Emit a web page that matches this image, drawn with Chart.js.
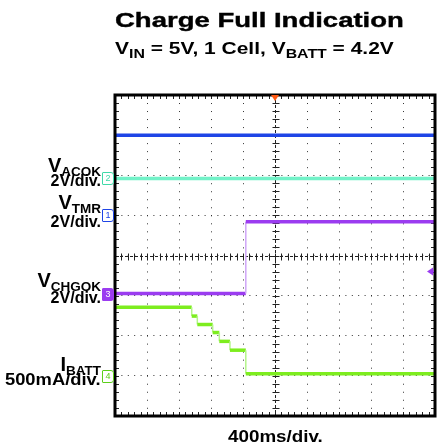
<!DOCTYPE html>
<html>
<head>
<meta charset="utf-8">
<script src="https://cdn.jsdelivr.net/npm/chart.js@4.4.0/dist/chart.umd.min.js"></script>
<style>
  html, body { margin: 0; padding: 0; background: #fff; }
  #wrap { position: relative; width: 438px; height: 445px; overflow: hidden;
          font-family: "Liberation Sans", Arial, sans-serif; font-weight: bold; color: #000; }
  #wrap canvas { position: absolute; left: 0; top: 0; }
  .txt { position: absolute; white-space: nowrap; line-height: 1; }
  .lbl { position: absolute; right: 337px; white-space: nowrap; line-height: 1; text-align: right; transform-origin: right top; }
  .big { font-size: 20px; }
  .sub { font-size: 13.5px; position: relative; top: 4px; }
  .div { font-size: 16px; }
  .mark { position: absolute; left: 102px; width: 10px; height: 11px; font-size: 9px; line-height: 11px;
          text-align: center; font-weight: normal; border: 1px solid; background: #fff; border-radius: 1px 3px 3px 1px; }
</style>
</head>
<body>
<div id="wrap">
  <canvas id="scope" width="438" height="445"></canvas>

  <div class="txt" id="title" style="left:115px; top:9px; font-size:21px; -webkit-text-stroke:0.4px #000; transform:scaleX(1.31); transform-origin:left top;">Charge Full Indication</div>
  <div class="txt" id="subtitle" style="left:115px; top:40px; font-size:16.5px; transform:scaleX(1.27); transform-origin:left top;">V<span style="font-size:12.5px; position:relative; top:4px;">IN</span> = 5V, 1 Cell, V<span style="font-size:12.5px; position:relative; top:4px;">BATT</span> = 4.2V</div>

  <div class="lbl" style="top:155px;"><span class="big">V</span><span class="sub">ACOK</span></div>
  <div class="lbl div" style="top:173px;">2V/div.</div>
  <div class="lbl" style="top:192px;"><span class="big">V</span><span class="sub">TMR</span></div>
  <div class="lbl div" style="top:214px;">2V/div.</div>
  <div class="lbl" style="top:270px;"><span class="big">V</span><span class="sub">CHGOK</span></div>
  <div class="lbl div" style="top:290px;">2V/div.</div>
  <div class="lbl" style="top:354px;"><span class="big">I</span><span class="sub">BATT</span></div>
  <div class="lbl div" style="top:371px; font-size:17px; transform:scaleX(1.08);">500mA/div.</div>

  <div class="txt" id="xlabel" style="left:228px; top:428px; font-size:16.5px; transform:scaleX(1.14); transform-origin:left top;">400ms/div.</div>

  <div class="mark" id="m1" style="color:#1f45e6; border-color:#1f45e6;">1</div>
  <div class="mark" id="m2" style="color:#3fd9a8; border-color:#3fd9a8;">2</div>
  <div class="mark" id="m3" style="color:#fff; border-color:#9b3cf0; background:#9b3cf0;">3</div>
  <div class="mark" id="m4" style="color:#5ccf1a; border-color:#5ccf1a;">4</div>
</div>

<script>
// capture: 10 divisions x 400ms
const timeSpan = [0, 4000];

// V_TMR (ch1) and V_ACOK (ch2) stay flat for the whole capture
const tmrLevels = [4.0];
const acokLevels = [0.0];

// V_CHGOK (ch3) goes high when charging is done
const chgokEdges = [1635];          // ms
const chgokLevels = [0.0, 3.58];    // V

// I_BATT (ch4) steps down, then drops to ~0 at charge full
const ibattEdges = [959, 1029, 1221, 1304, 1437, 1635];     // ms
const ibattLevels = [855, 745, 640, 540, 430, 320, 25];     // mA

// trigger level on ch3 (V)
const trigLevel = 1.1;

// scope channel settings: ground position (divisions from center), units per division
const channels = {
    ch1: { offset: 1.0, perDiv: 2 },
    ch2: { offset: 1.92, perDiv: 2 },
    ch3: { offset: -0.95, perDiv: 2 },
    ch4: { offset: -3.0, perDiv: 500 }
};

// turn edge times + levels into a list of points
function steps(edges, levels) {
    const pts = [];
    let start = timeSpan[0];
    levels.forEach((lv, i) => {
        const end = i < edges.length ? edges[i] : timeSpan[1];
        pts.push({ x: start, y: lv }, { x: end, y: lv });
        start = end;
    });
    return pts;
}

function chAxis(key) {
    const c = channels[key];
    return { type: 'linear', display: false, min: (-4 - c.offset) * c.perDiv, max: (4 - c.offset) * c.perDiv };
}

// edges drawn thin and lighter, like the scope does
function trace(label, key, pts, color, edgeColor) {
    return {
        label: label,
        yAxisID: key,
        data: pts,
        borderColor: color,
        borderWidth: 3.5,
        pointRadius: 0,
        tension: 0,
        segment: {
            borderColor: ctx => ctx.p0.parsed.x === ctx.p1.parsed.x ? edgeColor : undefined,
            borderWidth: ctx => ctx.p0.parsed.x === ctx.p1.parsed.x ? 1.5 : undefined
        }
    };
}

const scopeDecor = {
    id: 'scopeDecor',
    beforeDatasetsDraw(chart) {
        const { ctx, chartArea: a } = chart;
        const x = chart.scales.x, g = chart.scales.grid;
        const cx = Math.round(x.getPixelForValue((timeSpan[0] + timeSpan[1]) / 2)) + 0.5;
        const cy = Math.round(g.getPixelForValue(0)) + 0.5;
        ctx.save();
        ctx.strokeStyle = '#222';
        ctx.lineWidth = 1;
        // center cross, dashed
        ctx.setLineDash([3, 2]);
        ctx.beginPath();
        ctx.moveTo(a.left, cy); ctx.lineTo(a.right, cy);
        ctx.moveTo(cx, a.top); ctx.lineTo(cx, a.bottom);
        ctx.stroke();
        ctx.setLineDash([]);
        // minor ticks every 1/5 division
        ctx.beginPath();
        const stepX = (timeSpan[1] - timeSpan[0]) / 50;
        for (let i = 0; i <= 50; i++) {
            const px = Math.round(x.getPixelForValue(timeSpan[0] + i * stepX)) + 0.5;
            ctx.moveTo(px, cy - 3); ctx.lineTo(px, cy + 4);
            ctx.moveTo(px, a.top); ctx.lineTo(px, a.top + 4);
            ctx.moveTo(px, a.bottom); ctx.lineTo(px, a.bottom - 4);
        }
        for (let i = -20; i <= 20; i++) {
            const py = Math.round(g.getPixelForValue(i * 0.2)) + 0.5;
            ctx.moveTo(cx - 3, py); ctx.lineTo(cx + 4, py);
            ctx.moveTo(a.left, py); ctx.lineTo(a.left + 4, py);
            ctx.moveTo(a.right, py); ctx.lineTo(a.right - 4, py);
        }
        ctx.stroke();
        ctx.restore();
    },
    afterDraw(chart) {
        const { ctx, chartArea: a } = chart;
        const x = chart.scales.x;
        ctx.save();
        // frame
        ctx.strokeStyle = '#000';
        ctx.lineWidth = 3;
        ctx.strokeRect(a.left, a.top, a.right - a.left, a.bottom - a.top);
        // trigger position
        const tx = x.getPixelForValue((timeSpan[0] + timeSpan[1]) / 2);
        ctx.fillStyle = '#ff5a14';
        ctx.beginPath();
        ctx.moveTo(tx - 4, a.top); ctx.lineTo(tx + 4, a.top); ctx.lineTo(tx, a.top + 6);
        ctx.closePath(); ctx.fill();
        // trigger level
        const ty = chart.scales.ch3.getPixelForValue(trigLevel);
        ctx.fillStyle = '#9b3cf0';
        ctx.beginPath();
        ctx.moveTo(a.right - 8, ty); ctx.lineTo(a.right - 2, ty - 4); ctx.lineTo(a.right - 2, ty + 4);
        ctx.closePath(); ctx.fill();
        ctx.fillRect(a.right - 4, ty - 1, 3, 2);
        ctx.restore();
    }
};

const chart = new Chart(document.getElementById('scope').getContext('2d'), {
    type: 'line',
    data: {
        datasets: [
            trace('V_TMR', 'ch1', steps([], tmrLevels), '#1f45e6', '#1f45e6'),
            trace('V_ACOK', 'ch2', steps([], acokLevels), '#72f2c8', '#72f2c8'),
            trace('V_CHGOK', 'ch3', steps(chgokEdges, chgokLevels), '#9b3cf0', '#cfa6f7'),
            trace('I_BATT', 'ch4', steps(ibattEdges, ibattLevels), '#7ded1e', '#b4f58a')
        ]
    },
    options: {
        responsive: false,
        animation: false,
        devicePixelRatio: 1,
        layout: { autoPadding: false, padding: { left: 115, right: 3, top: 95, bottom: 29 } },
        plugins: { legend: { display: false }, tooltip: { enabled: false } },
        scales: {
            x: {
                type: 'linear', min: timeSpan[0], max: timeSpan[1],
                ticks: { display: false, stepSize: 400 },
                grid: { color: '#333', lineWidth: 1, drawTicks: false },
                border: { display: false, dash: [1, 7.02] }
            },
            grid: {
                type: 'linear', position: 'left', min: -4, max: 4,
                ticks: { display: false, stepSize: 1 },
                grid: { color: '#333', lineWidth: 1, drawTicks: false },
                border: { display: false, dash: [1, 5.4] }
            },
            ch1: chAxis('ch1'),
            ch2: chAxis('ch2'),
            ch3: chAxis('ch3'),
            ch4: chAxis('ch4')
        }
    },
    plugins: [scopeDecor]
});

// channel ground markers at the left edge of the screen
['ch1', 'ch2', 'ch3', 'ch4'].forEach((key, i) => {
    const el = document.getElementById('m' + (i + 1));
    el.style.top = (chart.scales[key].getPixelForValue(0) - 6) + 'px';
});
</script>
</body>
</html>
